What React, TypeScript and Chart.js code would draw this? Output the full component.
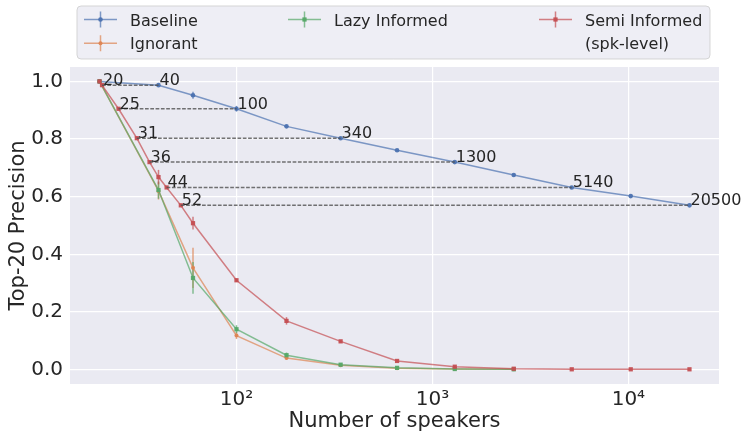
import React, { useEffect, useRef } from 'react';
import { Chart, registerables } from 'chart.js';

Chart.register(...registerables);

const FONT = '"DejaVu Sans", "Liberation Sans", sans-serif';
const TEXT = '#262626';

// ---- data ----
const speakers = [20, 40, 60, 100, 180, 340, 660, 1300, 2600, 5140, 10280, 20500];
const baseline = [1.0, 0.987, 0.952, 0.905, 0.844, 0.803, 0.761, 0.72, 0.675, 0.632, 0.602, 0.57];
const baselineErr = [0, 0.003, 0.012, 0.01, 0.004, 0.003, 0, 0, 0, 0, 0, 0];

const shortSpeakers = [20, 40, 60, 100, 180, 340, 660, 1300, 2600];
const ignorant = [1.0, 0.62, 0.353, 0.118, 0.04, 0.015, 0.005, 0.002, 0.001];
const ignorantErr = [0, 0.03, 0.07, 0.012, 0.006, 0.003, 0, 0, 0];
const lazyInformed = [1.0, 0.623, 0.318, 0.14, 0.05, 0.017, 0.006, 0.002, 0.001];
const lazyInformedErr = [0, 0.03, 0.055, 0.014, 0.009, 0.003, 0, 0, 0];

const semiSpeakers = [20, 20.6, 25, 31, 36, 40, 44, 52, 60, 100, 180, 340, 660, 1300, 2600, 5140, 10280, 20500];
const semiInformed = [1.0, 0.987, 0.905, 0.803, 0.72, 0.668, 0.632, 0.57, 0.508, 0.31, 0.169, 0.098, 0.03, 0.01, 0.003, 0.001, 0.001, 0.001];
const semiInformedErr = [0, 0, 0, 0, 0, 0.025, 0, 0, 0.022, 0.006, 0.013, 0.005, 0.003, 0.002, 0, 0, 0, 0];

// matched precision: semi-informed speakers vs baseline speakers
const matchY = [0.987, 0.905, 0.803, 0.72, 0.632, 0.57];
const matchSemiX = [20.6, 25, 31, 36, 44, 52];
const matchSemiLabels = ['20', '25', '31', '36', '44', '52'];
const matchBaseX = [40, 100, 340, 1300, 5140, 20500];
const matchBaseLabels = ['40', '100', '340', '1300', '5140', '20500'];

const xTickValues = [100, 1000, 10000];
const xTickLabels = ['10²', '10³', '10⁴'];
const yTickValues = [0, 0.2, 0.4, 0.6, 0.8, 1.0];

const X_MIN = 14.14;
const X_MAX = 29000;
const Y_MIN = -0.05;
const Y_MAX = 1.05;

type RGB = [number, number, number];
const BLUE: RGB = [76, 114, 176];
const ORANGE: RGB = [221, 132, 82];
const GREEN: RGB = [85, 168, 104];
const RED: RGB = [196, 78, 82];
const rgba = (c: RGB, a: number) => `rgba(${c[0]},${c[1]},${c[2]},${a})`;

const series = [
  { label: 'Baseline', xs: speakers, ys: baseline, err: baselineErr, color: BLUE, style: 'circle', r: 2.3 },
  { label: 'Ignorant', xs: shortSpeakers, ys: ignorant, err: ignorantErr, color: ORANGE, style: 'circle', r: 2 },
  { label: 'Lazy Informed', xs: shortSpeakers, ys: lazyInformed, err: lazyInformedErr, color: GREEN, style: 'rect', r: 3 },
  { label: 'Semi Informed', xs: semiSpeakers, ys: semiInformed, err: semiInformedErr, color: RED, style: 'rect', r: 3 },
];

export default function App() {
  const ref = useRef<HTMLCanvasElement>(null);

  useEffect(() => {
    const canvas = ref.current;
    if (!canvas) return;

    const datasets = series.map((s, i) => ({
      label: s.label,
      data: s.xs.map((x, j) => ({ x, y: s.ys[j] })),
      borderColor: rgba(s.color, 0.7),
      backgroundColor: rgba(s.color, 0.95),
      pointBackgroundColor: rgba(s.color, 0.95),
      pointBorderWidth: 0,
      borderWidth: 1.5,
      pointStyle: s.style,
      pointRadius: s.r,
      showLine: true,
      tension: 0,
      order: 3 - i,
    }));

    const overlay = {
      id: 'overlay',
      beforeDraw(chart: any) {
        const { ctx, chartArea: a } = chart;
        ctx.save();
        ctx.fillStyle = '#ffffff';
        ctx.fillRect(0, 0, chart.width, chart.height);
        ctx.fillStyle = '#EAEAF2';
        ctx.fillRect(a.left, a.top, a.right - a.left, a.bottom - a.top);
        ctx.restore();
      },
      beforeDatasetsDraw(chart: any) {
        const { ctx } = chart;
        const xs = chart.scales.x;
        const ys = chart.scales.y;
        ctx.save();
        ctx.lineWidth = 1.5;
        series.forEach((s) => {
          ctx.strokeStyle = rgba(s.color, 0.7);
          s.xs.forEach((x, j) => {
            const e = s.err[j];
            if (!e) return;
            const px = xs.getPixelForValue(x);
            ctx.beginPath();
            ctx.moveTo(px, ys.getPixelForValue(s.ys[j] - e));
            ctx.lineTo(px, ys.getPixelForValue(s.ys[j] + e));
            ctx.stroke();
          });
        });
        ctx.restore();
      },
      afterDatasetsDraw(chart: any) {
        const { ctx } = chart;
        const xs = chart.scales.x;
        const ys = chart.scales.y;
        ctx.save();
        ctx.strokeStyle = 'rgba(80,80,80,0.8)';
        ctx.lineWidth = 1.5;
        ctx.setLineDash([3.7, 1.6]);
        matchY.forEach((y, i) => {
          const py = ys.getPixelForValue(y);
          ctx.beginPath();
          ctx.moveTo(xs.getPixelForValue(matchSemiX[i]), py);
          ctx.lineTo(xs.getPixelForValue(matchBaseX[i]), py);
          ctx.stroke();
        });
        ctx.setLineDash([]);
        ctx.fillStyle = TEXT;
        ctx.font = `16px ${FONT}`;
        ctx.textAlign = 'left';
        ctx.textBaseline = 'alphabetic';
        matchY.forEach((y, i) => {
          const py = ys.getPixelForValue(y);
          ctx.fillText(matchSemiLabels[i], xs.getPixelForValue(matchSemiX[i]) + 1, py);
          ctx.fillText(matchBaseLabels[i], xs.getPixelForValue(matchBaseX[i]) + 1, py);
        });
        ctx.restore();
      },
      afterDraw(chart: any) {
        const { ctx } = chart;
        ctx.save();
        // legend frame
        const lx = 77, ly = 6, lw = 633, lh = 53, rr = 4;
        ctx.beginPath();
        ctx.moveTo(lx + rr, ly);
        ctx.lineTo(lx + lw - rr, ly);
        ctx.quadraticCurveTo(lx + lw, ly, lx + lw, ly + rr);
        ctx.lineTo(lx + lw, ly + lh - rr);
        ctx.quadraticCurveTo(lx + lw, ly + lh, lx + lw - rr, ly + lh);
        ctx.lineTo(lx + rr, ly + lh);
        ctx.quadraticCurveTo(lx, ly + lh, lx, ly + lh - rr);
        ctx.lineTo(lx, ly + rr);
        ctx.quadraticCurveTo(lx, ly, lx + rr, ly);
        ctx.closePath();
        ctx.fillStyle = 'rgba(234,234,242,0.8)';
        ctx.fill();
        ctx.strokeStyle = 'rgba(204,204,204,0.8)';
        ctx.lineWidth = 1;
        ctx.stroke();

        const entries = [
          { s: series[0], mx: 84, row: 0, text: ['Baseline'] },
          { s: series[1], mx: 84, row: 1, text: ['Ignorant'] },
          { s: series[2], mx: 288, row: 0, text: ['Lazy Informed'] },
          { s: series[3], mx: 539, row: 0, text: ['Semi Informed', '(spk-level)'] },
        ];
        const rowMarkerY = [19.5, 43.3];
        const rowTextY = [25.5, 49.2];
        ctx.font = `16px ${FONT}`;
        ctx.textAlign = 'left';
        ctx.textBaseline = 'alphabetic';
        entries.forEach((e) => {
          const my = rowMarkerY[e.row];
          const cx = e.mx + 16.5;
          ctx.strokeStyle = rgba(e.s.color, 0.7);
          ctx.lineWidth = 1.5;
          ctx.beginPath();
          ctx.moveTo(e.mx, my);
          ctx.lineTo(e.mx + 33, my);
          ctx.moveTo(cx, my - 8);
          ctx.lineTo(cx, my + 8);
          ctx.stroke();
          ctx.fillStyle = rgba(e.s.color, 0.95);
          if (e.s.style === 'rect') {
            const h = e.s.r * Math.SQRT1_2;
            ctx.fillRect(cx - h, my - h, 2 * h, 2 * h);
          } else {
            ctx.beginPath();
            ctx.arc(cx, my, e.s.r, 0, Math.PI * 2);
            ctx.fill();
          }
          ctx.fillStyle = TEXT;
          e.text.forEach((t, k) => {
            ctx.fillText(t, e.mx + 46, rowTextY[e.row + k]);
          });
        });
        ctx.restore();
      },
    };

    const chart = new Chart(canvas, {
      type: 'scatter',
      data: { datasets: datasets as any },
      options: {
        animation: false,
        responsive: false,
        maintainAspectRatio: false,
        layout: { padding: { top: 67, right: 24, left: 0, bottom: 0 } },
        plugins: { legend: { display: false }, tooltip: { enabled: false } },
        scales: {
          x: {
            type: 'logarithmic',
            min: X_MIN,
            max: X_MAX,
            afterBuildTicks: (s: any) => {
              s.ticks = xTickValues.map((v) => ({ value: v, major: false }));
            },
            afterFit: (s: any) => {
              s.height = 49;
            },
            ticks: {
              callback: (v: any) => {
                const i = xTickValues.indexOf(Number(v));
                return i >= 0 ? xTickLabels[i] : '';
              },
              font: { family: FONT, size: 20 },
              color: TEXT,
              padding: 4,
              maxRotation: 0,
              autoSkip: false,
            },
            grid: { color: '#ffffff', lineWidth: 1.2, drawTicks: false },
            border: { display: false },
            title: {
              display: true,
              text: 'Number of speakers',
              font: { family: FONT, size: 21, lineHeight: 1 },
              color: TEXT,
              padding: { top: 0, bottom: 1 },
            },
          },
          y: {
            type: 'linear',
            min: Y_MIN,
            max: Y_MAX,
            afterBuildTicks: (s: any) => {
              s.ticks = yTickValues.map((v) => ({ value: v }));
            },
            afterFit: (s: any) => {
              s.width = 70;
            },
            ticks: {
              callback: (v: any) => Number(v).toFixed(1),
              font: { family: FONT, size: 20 },
              color: TEXT,
              padding: 7,
            },
            grid: { color: '#ffffff', lineWidth: 1.2, drawTicks: false },
            border: { display: false },
            title: {
              display: true,
              text: 'Top-20 Precision',
              font: { family: FONT, size: 21, lineHeight: 1 },
              color: TEXT,
              padding: { top: 8, bottom: 0 },
            },
          },
        },
      },
      plugins: [overlay],
    } as any);

    return () => chart.destroy();
  }, []);

  return (
    <div style={{ position: 'absolute', left: 0, top: 0, width: 743, height: 433, background: '#fff' }}>
      <canvas ref={ref} width={743} height={433} style={{ display: 'block' }} />
    </div>
  );
}
